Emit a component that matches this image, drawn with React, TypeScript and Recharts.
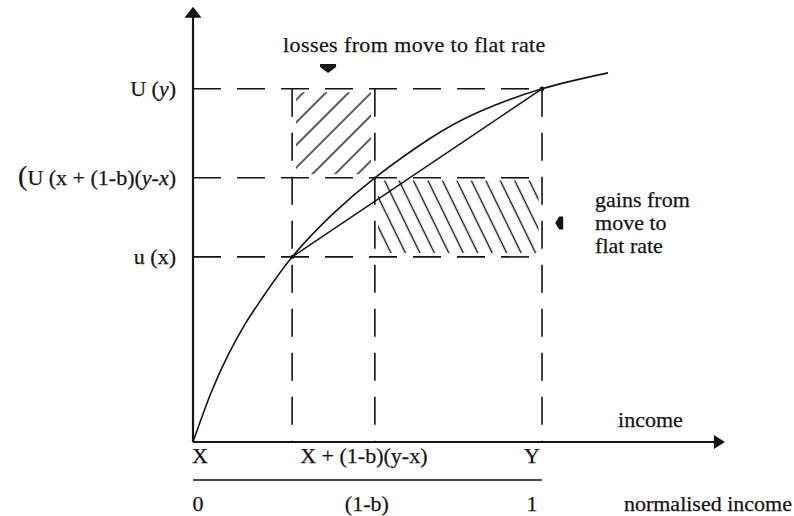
import React from "react";
import {
  ComposedChart,
  Line,
  XAxis,
  YAxis,
  ReferenceLine,
  ReferenceArea,
  ReferenceDot,
} from "recharts";

// ---- data (income normalised so X=0, Y=1; utility normalised so U(y)=1) ----
const curveIncome = [0, 0.05, 0.1, 0.15, 0.2, 0.284, 0.4, 0.521, 0.68, 0.82, 1, 1.189];
const curveUtility = [0, 0.135, 0.245, 0.335, 0.41, 0.524, 0.645, 0.748, 0.86, 0.935, 1, 1.045];

const incomeLow = 0.284; // x
const incomeMid = 0.521; // x + (1-b)(y-x)
const incomeHigh = 1; // y
const utilLow = 0.524; // u(x)
const utilMid = 0.748; // U(x + (1-b)(y-x))
const utilHigh = 1; // U(y)

const xTicks = [0, incomeMid, incomeHigh];
const xTickLabels = ["X", "X + (1-b)(y-x)", "Y"];
const normTickLabels = ["0", "(1-b)", "1"];

const yTicks = [utilLow, utilMid, utilHigh];
type Part = { t: string; i?: boolean; big?: boolean };
const yTickLabels: Part[][] = [
  [{ t: "u (x)" }],
  [{ t: "(", big: true }, { t: "U (x + (1-b)(" }, { t: "y", i: true }, { t: "-" }, { t: "x", i: true }, { t: ")" }],
  [{ t: "U (" }, { t: "y", i: true }, { t: ")" }],
];

const curveData = curveIncome.map((x, k) => ({ x, y: curveUtility[k] }));
const chordData = [
  { x: incomeLow, y: utilLow },
  { x: incomeHigh, y: utilHigh },
];

const FONT = "'Liberation Serif', 'Times New Roman', serif";
const INK = "#141414";
const FS = 22;
const DASH = "28 16";
const TEXT_STROKE = { stroke: INK, strokeWidth: 0.25 };

function YTick(props: any) {
  const { x, y, payload } = props;
  const idx = yTicks.indexOf(payload.value);
  const parts = yTickLabels[idx] || [];
  return (
    <text x={x - 17} y={y + 7} textAnchor="end" fontFamily={FONT} fontSize={FS} fill={INK} {...TEXT_STROKE}>
      {parts.map((p, k) => (
        <tspan key={k} fontStyle={p.i ? "italic" : "normal"} fontSize={p.big ? 28 : FS}>
          {p.t}
        </tspan>
      ))}
    </text>
  );
}

const xNudge = [7, -11, -10];
const normNudge = [5, -8, -10];
function XTick(props: any) {
  const { x, y, payload } = props;
  const idx = xTicks.indexOf(payload.value);
  return (
    <g>
      <text x={x + xNudge[idx]} y={y + 21} textAnchor="middle" fontFamily={FONT} fontSize={FS} fill={INK} {...TEXT_STROKE}>
        {xTickLabels[idx]}
      </text>
      <text x={x + normNudge[idx]} y={y + 69} textAnchor="middle" fontFamily={FONT} fontSize={FS} fill={INK} {...TEXT_STROKE}>
        {normTickLabels[idx]}
      </text>
    </g>
  );
}

const textShape = (lines: string[], anchor: "start" | "end" | "middle", spacing = 0, gap = 23) => (p: any) => (
  <text
    x={p.cx}
    y={p.cy}
    textAnchor={anchor}
    fontFamily={FONT}
    fontSize={FS}
    fill={INK}
    letterSpacing={spacing}
    {...TEXT_STROKE}
  >
    {lines.map((l, k) => (
      <tspan key={k} x={p.cx} dy={k === 0 ? 0 : gap}>
        {l}
      </tspan>
    ))}
  </text>
);

const upArrow = (p: any) => (
  <polygon points={`${p.cx},${p.cy} ${p.cx - 8.5},${p.cy + 11} ${p.cx + 8.5},${p.cy + 11}`} fill={INK} />
);
const rightArrow = (p: any) => (
  <polygon points={`${p.cx},${p.cy} ${p.cx - 11},${p.cy - 7} ${p.cx - 11},${p.cy + 7}`} fill={INK} />
);
const downPointer = (p: any) => (
  <polygon
    points={`${p.cx - 8},${p.cy - 4} ${p.cx + 8},${p.cy - 4} ${p.cx + 8},${p.cy - 1} ${p.cx},${p.cy + 5} ${p.cx - 8},${p.cy - 1}`}
    fill={INK}
  />
);
const leftPointer = (p: any) => (
  <polygon
    points={`${p.cx - 5},${p.cy} ${p.cx - 1},${p.cy - 6.5} ${p.cx + 3},${p.cy - 6.5} ${p.cx + 3},${p.cy + 6.5} ${p.cx - 1},${p.cy + 6.5}`}
    fill={INK}
  />
);

export default function App() {
  return (
    <div style={{ position: "absolute", left: 0, top: 0, background: "#fff" }}>
      <ComposedChart width={794} height={516} margin={{ top: 4, right: 60, bottom: 0, left: 0 }}>
        <defs>
          <pattern id="hatchLoss" width="16" height="16" patternUnits="userSpaceOnUse" patternTransform="rotate(45)">
            <line x1="8" y1="0" x2="8" y2="16" stroke={INK} strokeWidth="1.4" />
          </pattern>
          <pattern id="hatchGain" width="13" height="13" patternUnits="userSpaceOnUse" patternTransform="rotate(-26)">
            <line x1="6.5" y1="0" x2="6.5" y2="13" stroke={INK} strokeWidth="1.4" />
          </pattern>
        </defs>
        <XAxis
          type="number"
          dataKey="x"
          domain={[0, 1.55]}
          ticks={xTicks}
          interval={0}
          tick={<XTick />}
          axisLine={false}
          tickLine={false}
          tickSize={0}
          tickMargin={0}
          height={74}
          allowDataOverflow
        />
        <YAxis
          type="number"
          dataKey="y"
          domain={[0, 1.24]}
          ticks={yTicks}
          interval={0}
          tick={<YTick />}
          axisLine={false}
          tickLine={false}
          tickSize={0}
          tickMargin={0}
          width={193}
          allowDataOverflow
        />

        {/* hatched areas */}
        <ReferenceArea x1={0.295} x2={0.51} y1={0.758} y2={0.99} fill="url(#hatchLoss)" fillOpacity={1} stroke="none" />
        <ReferenceArea x1={0.53} x2={0.99} y1={0.535} y2={0.74} fill="url(#hatchGain)" fillOpacity={1} stroke="none" />

        {/* dashed guides */}
        <ReferenceLine segment={[{ x: 0, y: utilHigh }, { x: incomeHigh, y: utilHigh }]} stroke={INK} strokeWidth={1.6} strokeDasharray={DASH} />
        <ReferenceLine segment={[{ x: 0, y: utilMid }, { x: incomeHigh, y: utilMid }]} stroke={INK} strokeWidth={1.6} strokeDasharray={DASH} />
        <ReferenceLine segment={[{ x: 0, y: utilLow }, { x: incomeHigh, y: utilLow }]} stroke={INK} strokeWidth={1.6} strokeDasharray={DASH} />
        <ReferenceLine segment={[{ x: incomeLow, y: utilHigh }, { x: incomeLow, y: 0 }]} stroke={INK} strokeWidth={1.6} strokeDasharray={DASH} />
        <ReferenceLine segment={[{ x: incomeMid, y: utilHigh }, { x: incomeMid, y: 0 }]} stroke={INK} strokeWidth={1.6} strokeDasharray={DASH} />
        <ReferenceLine segment={[{ x: incomeHigh, y: utilHigh }, { x: incomeHigh, y: 0 }]} stroke={INK} strokeWidth={1.6} strokeDasharray={DASH} />

        {/* axes */}
        <ReferenceLine segment={[{ x: 0, y: 0 }, { x: 0, y: 1.203 }]} stroke={INK} strokeWidth={2.2} />
        <ReferenceLine segment={[{ x: 0, y: 0 }, { x: 1.496, y: 0 }]} stroke={INK} strokeWidth={2.2} />
        <ReferenceDot x={0} y={1.232} r={1} shape={upArrow} ifOverflow="visible" />
        <ReferenceDot x={1.524} y={0} r={1} shape={rightArrow} ifOverflow="visible" />

        {/* underline between the two income scales */}
        <ReferenceLine segment={[{ x: 0, y: -0.1076 }, { x: incomeHigh, y: -0.1076 }]} stroke={INK} strokeWidth={1.3} ifOverflow="visible" />

        {/* utility curve and chord */}
        <Line data={curveData} dataKey="y" type="natural" stroke={INK} strokeWidth={1.6} dot={false} isAnimationActive={false} />
        <Line data={chordData} dataKey="y" type="linear" stroke={INK} strokeWidth={1.5} dot={false} isAnimationActive={false} />
        <ReferenceDot x={incomeLow} y={utilLow} r={2} fill={INK} stroke="none" />
        <ReferenceDot x={incomeHigh} y={utilHigh} r={2.3} fill={INK} stroke="none" />

        {/* annotations */}
        <ReferenceDot x={0.258} y={1.104} r={1} shape={textShape(["losses from move to flat rate"], "start", 0.4)} ifOverflow="visible" />
        <ReferenceDot x={0.387} y={1.059} r={1} shape={downPointer} ifOverflow="visible" />
        <ReferenceDot x={1.152} y={0.665} r={1} shape={textShape(["gains from", "move to", "flat rate"], "start")} ifOverflow="visible" />
        <ReferenceDot x={1.052} y={0.62} r={1} shape={leftPointer} ifOverflow="visible" />
        <ReferenceDot x={1.218} y={0.042} r={1} shape={textShape(["income"], "start")} ifOverflow="visible" />
        <ReferenceDot x={1.716} y={-0.195} r={1} shape={textShape(["normalised income"], "end")} ifOverflow="visible" />
      </ComposedChart>
    </div>
  );
}
